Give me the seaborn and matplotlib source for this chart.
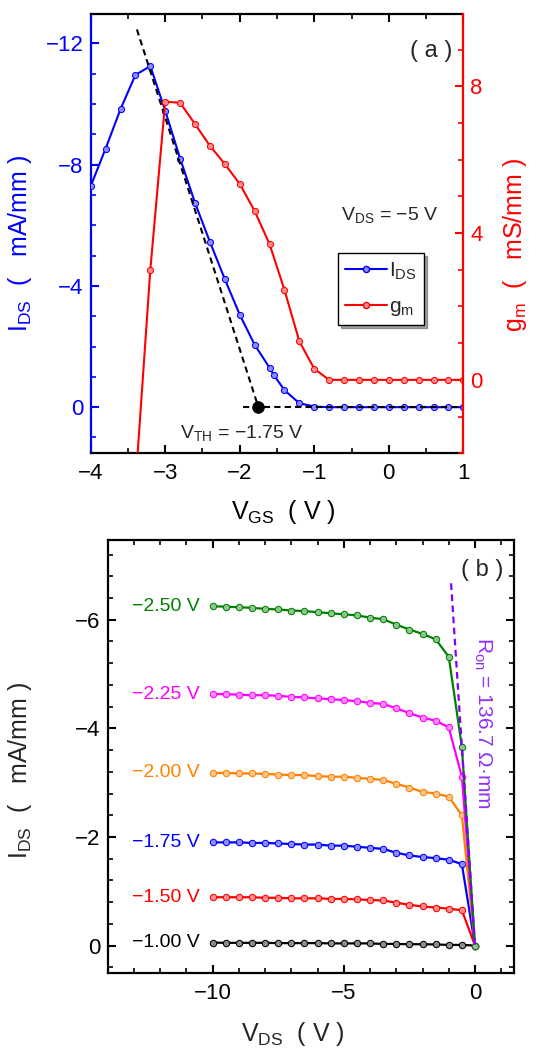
import matplotlib
matplotlib.use("Agg")
import matplotlib.pyplot as plt
from matplotlib.ticker import MultipleLocator
from matplotlib.lines import Line2D
from matplotlib.colors import to_rgb
import seaborn as sns

# ---------------- panel (a): transfer curve ----------------
vgs_ids = [-4.0, -3.8, -3.6, -3.4, -3.2, -3.0, -2.8, -2.6, -2.4, -2.2, -2.0, -1.8,
           -1.6, -1.54, -1.4, -1.2, -1.0, -0.8, -0.6, -0.4, -0.2, 0.0, 0.2, 0.4,
           0.6, 0.8, 1.0]
ids_a = [-7.29, -8.53, -9.83, -10.96, -11.25, -9.78, -8.20, -6.74, -5.45, -4.22,
         -3.05, -2.06, -1.30, -1.05, -0.56, -0.13, -0.02, 0.0, 0.0, 0.0, 0.0, 0.0,
         0.0, 0.0, 0.0, 0.0, 0.0]
vgs_gm = [-3.4, -3.2, -3.0, -2.8, -2.6, -2.4, -2.2, -2.0, -1.8, -1.6, -1.4, -1.2,
          -1.0, -0.8, -0.6, -0.4, -0.2, 0.0, 0.2, 0.4, 0.6, 0.8, 1.0]
gm = [-2.88, 3.00, 7.58, 7.55, 6.97, 6.38, 5.88, 5.34, 4.60, 3.70, 2.45, 1.05,
      0.30, 0.0, 0.0, 0.0, 0.0, 0.0, 0.0, 0.0, 0.0, 0.0, 0.0]
tangent_v = [-3.38, -1.75]
tangent_i = [-12.46, 0.0]
baseline_v = [-1.95, 1.0]
baseline_i = [0.0, 0.0]
vth = -1.75

# ---------------- panel (b): output curves ----------------
vds = [-10.0, -9.5, -9.0, -8.5, -8.0, -7.5, -7.0, -6.5, -6.0, -5.5, -5.0, -4.5,
       -4.0, -3.5, -3.0, -2.5, -2.0, -1.5, -1.0, -0.5, 0.0]
ids_250 = [-6.25, -6.24, -6.23, -6.22, -6.20, -6.19, -6.17, -6.16, -6.14, -6.12, -6.10,
           -6.08, -6.04, -6.01, -5.91, -5.82, -5.74, -5.64, -5.32, -3.66, 0.0]
ids_225 = [-4.63, -4.63, -4.62, -4.61, -4.61, -4.60, -4.58, -4.57, -4.55, -4.54, -4.52,
           -4.50, -4.47, -4.45, -4.37, -4.28, -4.20, -4.14, -4.02, -3.11, 0.0]
ids_200 = [-3.18, -3.18, -3.17, -3.17, -3.16, -3.15, -3.14, -3.14, -3.12, -3.11, -3.11,
           -3.09, -3.07, -3.05, -2.98, -2.91, -2.83, -2.80, -2.74, -2.40, 0.0]
ids_175 = [-1.90, -1.90, -1.90, -1.89, -1.89, -1.88, -1.87, -1.86, -1.86, -1.84, -1.84,
           -1.82, -1.80, -1.78, -1.71, -1.66, -1.63, -1.61, -1.58, -1.50, 0.0]
ids_150 = [-0.89, -0.89, -0.89, -0.89, -0.88, -0.88, -0.87, -0.87, -0.87, -0.86, -0.86,
           -0.85, -0.84, -0.83, -0.79, -0.75, -0.72, -0.70, -0.68, -0.65, 0.0]
ids_100 = [-0.055, -0.05, -0.05, -0.05, -0.05, -0.045, -0.045, -0.045, -0.045, -0.04,
           -0.04, -0.04, -0.04, -0.03, -0.03, -0.025, -0.025, -0.02, -0.012, -0.012, 0.0]
gate_labels = ["\u22121.00 V", "\u22121.50 V", "\u22121.75 V", "\u22122.00 V",
               "\u22122.25 V", "\u22122.50 V"]
gate_curves = [ids_100, ids_150, ids_175, ids_200, ids_225, ids_250]
gate_colors = ["#000000", "#FF0000", "#0000FF", "#FF8000", "#FF00FF", "#008000"]
ron = 136.7  # ohm*mm
ron_v = [-0.912, 0.0]

# ---------------- style ----------------
sns.set_theme(style="ticks")
plt.rcParams["font.family"] = ["Liberation Sans", "DejaVu Sans"]
plt.rcParams["mathtext.fontset"] = "custom"
plt.rcParams["mathtext.rm"] = "Liberation Sans"
plt.rcParams["mathtext.it"] = "Liberation Sans:italic"
plt.rcParams["axes.unicode_minus"] = True

TICK = 16
LAB = 18
MINUS = "\u2212"


def tint(c, f=0.55):
    r, g, b = to_rgb(c)
    return (r + (1 - r) * f, g + (1 - g) * f, b + (1 - b) * f)


def style_ticks(ax, color="black", axis="both", **kw):
    ax.tick_params(axis=axis, which="major", direction="in", length=6, width=1.5,
                   labelsize=TICK, colors=color, **kw)
    ax.tick_params(axis=axis, which="minor", direction="in", length=3.5, width=1.2,
                   colors=color, **kw)


fig = plt.figure(figsize=(5.37, 10.61), dpi=100)

# ================= panel (a) =================
ax = fig.add_axes([0.1689, 0.5728, 0.6939, 0.4140])
ax2 = ax.twinx()
ax2.set_position([0.1689, 0.5728, 0.6939, 0.4140])

sns.lineplot(x=vgs_ids, y=ids_a, ax=ax, color="#0000FF", marker="o", markersize=4.4,
             markeredgecolor="#0000FF", markerfacecolor=tint("#0000FF"), linewidth=1.5,
             sort=False, estimator=None, zorder=3)
sns.lineplot(x=tangent_v, y=tangent_i, ax=ax, color="black", linewidth=1.5,
             linestyle=(0, (3, 2)), sort=False, estimator=None, zorder=4)
sns.lineplot(x=baseline_v, y=baseline_i, ax=ax, color="black", linewidth=1.5,
             linestyle=(0, (3, 2)), sort=False, estimator=None, zorder=4)
sns.scatterplot(x=[vth], y=[0.0], ax=ax, color="black", s=70, zorder=5,
                edgecolor="black")
sns.lineplot(x=vgs_gm, y=gm, ax=ax2, color="#FF0000", marker="o", markersize=4.4,
             markeredgecolor="#FF0000", markerfacecolor=tint("#FF0000"), linewidth=1.5,
             sort=False, estimator=None)

ax.set_xlim(-4, 1)
ax.set_ylim(1.52, -12.97)
ax2.set_ylim(-2.0, 9.97)

ax.xaxis.set_major_locator(MultipleLocator(1))
ax.xaxis.set_minor_locator(MultipleLocator(0.5))
ax.yaxis.set_major_locator(MultipleLocator(4))
ax.yaxis.set_minor_locator(MultipleLocator(1))
ax2.yaxis.set_major_locator(MultipleLocator(4))
ax2.yaxis.set_minor_locator(MultipleLocator(1))

style_ticks(ax, "black", axis="x", top=True, bottom=True, pad=7)
style_ticks(ax, "#0000FF", axis="y", left=True, right=False, pad=5)
style_ticks(ax2, "#FF0000", axis="y", left=False, right=True, pad=5)
ax2.tick_params(axis="x", which="both", top=False, bottom=False)

for sp in ["top", "bottom"]:
    ax.spines[sp].set_color("black")
    ax.spines[sp].set_linewidth(1.6)
    ax2.spines[sp].set_visible(False)
ax.spines["left"].set_color("#0000FF")
ax.spines["left"].set_linewidth(1.6)
ax.spines["right"].set_visible(False)
ax2.spines["left"].set_visible(False)
ax2.spines["right"].set_color("#FF0000")
ax2.spines["right"].set_linewidth(1.6)
ax2.spines["right"].set_visible(True)

ax.set_xlabel(r"$\mathregular{V_{GS}}$  ( V )", fontsize=LAB, color="black")
ax.set_ylabel(r"$\mathregular{I_{DS}}$  (   mA/mm )", fontsize=LAB, color="#0000FF")
ax2.set_ylabel(r"$\mathregular{g_m}$  (   mS/mm )", fontsize=LAB, color="#FF0000")
ax.xaxis.set_label_coords(0.516, -0.102)
ax.yaxis.set_label_coords(-0.152, 0.478)
ax2.yaxis.set_label_coords(1.101, 0.474)

ax.text(0.915, 0.915, "( a )", transform=ax.transAxes, fontsize=17, ha="center",
        va="center")
ax.text(0.803, 0.542, r"$\mathregular{V_{DS}}$ = " + MINUS + "5 V",
        transform=ax.transAxes, fontsize=14, ha="center", va="center")
ax.text(0.405, 0.045, r"$\mathregular{V_{TH}}$ = " + MINUS + "1.75 V",
        transform=ax.transAxes, fontsize=14, ha="center", va="center")

handles = [
    Line2D([], [], color="#0000FF", marker="o", markersize=4.4, linewidth=1.5,
           markerfacecolor=tint("#0000FF")),
    Line2D([], [], color="#FF0000", marker="o", markersize=4.4, linewidth=1.5,
           markerfacecolor=tint("#FF0000")),
]
leg = ax2.legend(handles, [r"$\mathregular{I_{DS}}$", r"$\mathregular{g_m}$"],
                 loc="upper left", bbox_to_anchor=(0.664, 0.456), fontsize=15,
                 frameon=True, fancybox=False, shadow=True, edgecolor="black",
                 framealpha=1, handlelength=2.0, borderpad=0.35, labelspacing=0.75,
                 handletextpad=0.1, borderaxespad=0)
leg.get_frame().set_linewidth(1.0)

# ================= panel (b) =================
bx = fig.add_axes([0.2006, 0.0827, 0.7572, 0.4084])
for curve, col, lab in zip(gate_curves, gate_colors, gate_labels):
    sns.lineplot(x=vds, y=curve, ax=bx, color=col, marker="o", markersize=4.6,
                 markeredgecolor=col, markerfacecolor=tint(col), linewidth=1.6,
                 sort=False, estimator=None)
    bx.text(-10.5, curve[0], lab, color=col, fontsize=14, ha="right", va="center")

ron_i = [v / ron * 1000.0 for v in ron_v]
sns.lineplot(x=ron_v, y=ron_i, ax=bx, color="#8000FF", linewidth=1.6,
             linestyle=(0, (3, 2)), sort=False, estimator=None, zorder=5)
bx.text(0.29, -4.1, r"$\mathregular{R_{on}}$ = 136.7 " + "\u03a9\u00b7mm",
        color="#9030FF", fontsize=15, rotation=-90, ha="center", va="center")
bx.text(0.92, 0.93, "( b )", transform=bx.transAxes, fontsize=17, ha="center",
        va="center")

bx.set_xlim(-14, 1.5)
bx.set_ylim(0.51, -7.47)
bx.xaxis.set_major_locator(MultipleLocator(5))
bx.xaxis.set_minor_locator(MultipleLocator(1))
bx.yaxis.set_major_locator(MultipleLocator(2))
bx.yaxis.set_minor_locator(MultipleLocator(0.4))
style_ticks(bx, "black", axis="x", top=True, bottom=True, pad=7)
style_ticks(bx, "black", axis="y", left=True, right=True, pad=5)
for sp in bx.spines.values():
    sp.set_color("black")
    sp.set_linewidth(1.6)
bx.set_xlabel(r"$\mathregular{V_{DS}}$  ( V )", fontsize=LAB)
bx.set_ylabel(r"$\mathregular{I_{DS}}$  (   mA/mm )", fontsize=LAB)
bx.xaxis.set_label_coords(0.455, -0.108)
bx.yaxis.set_label_coords(-0.182, 0.469)

fig.savefig("out.png", dpi=100)
